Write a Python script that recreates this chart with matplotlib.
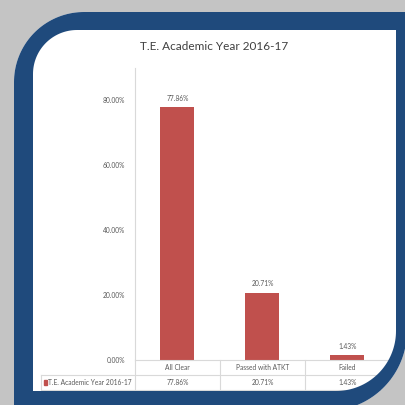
import numpy as np
import matplotlib
matplotlib.use("Agg")
import matplotlib.pyplot as plt
from matplotlib.path import Path
from matplotlib.patches import PathPatch, Rectangle

plt.rcParams['font.family'] = ['Lato', 'DejaVu Sans']

# data
title = "T.E. Academic Year 2016-17"
series_name = "T.E. Academic Year 2016-17"
categories = ["All Clear", "Passed with ATKT", "Failed"]
values = [0.7786, 0.2071, 0.0143]
yticks = [0.0, 0.2, 0.4, 0.6, 0.8]

bar_color = "#c0504d"
text_color = "#595959"
line_color = "#d9d9d9"
frame_blue = "#1f4a7c"
back_grey = "#c4c4c4"
fs = 4.8

W, H = 406, 405
fig = plt.figure(figsize=(W / 100, H / 100), dpi=100)


def rrect(x0, y0, x1, y1, r_tl, r_br, n=40):
    # rounded rectangle in pixel coords (y down), only TL and BR corners rounded
    pts = [(x0 + r_tl, y0), (x1, y0), (x1, y1 - r_br)]
    t = np.linspace(0, np.pi / 2, n)
    pts += list(zip(x1 - r_br + r_br * np.cos(t), y1 - r_br + r_br * np.sin(t)))
    pts += [(x0, y1), (x0, y0 + r_tl)]
    t = np.linspace(np.pi, 1.5 * np.pi, n)
    pts += list(zip(x0 + r_tl + r_tl * np.cos(t), y0 + r_tl + r_tl * np.sin(t)))
    pts.append(pts[0])
    return np.array(pts)


outer = rrect(14, 12, 407, 411, 70, 80)
inner = rrect(33, 30, 396, 391, 44, 60)
full = np.array([(-5, -5), (W + 5, -5), (W + 5, H + 5), (-5, H + 5), (-5, -5)])

# background: white panel
bg = fig.add_axes([0, 0, 1, 1])
bg.set_xlim(0, W)
bg.set_ylim(H, 0)
bg.axis('off')
bg.add_patch(Rectangle((0, 0), W, H, color='white'))
bg.text(214, 47, title, ha='center', va='center', fontsize=8.5, color='#404040')

# chart
ax = fig.add_axes([135 / W, 45 / H, 255 / W, 292 / H], facecolor='none')
x = np.arange(len(categories))
ax.bar(x, values, width=0.4, color=bar_color, zorder=2)
ax.set_xlim(-0.5, len(categories) - 0.5)
ax.set_ylim(0, 0.9)
ax.set_yticks(yticks)
ax.set_yticklabels([f"{v:.2%}" for v in yticks])
ax.set_xticks([])
ax.tick_params(axis='y', length=0, pad=7, labelsize=fs, labelcolor=text_color)
for s in ['top', 'right']:
    ax.spines[s].set_visible(False)
for s in ['left', 'bottom']:
    ax.spines[s].set_color(line_color)
    ax.spines[s].set_linewidth(0.8)

for xi, v in zip(x, values):
    ax.annotate(f"{v:.2%}", (xi, v), xytext=(0, 4), textcoords='offset points',
                ha='center', va='bottom', fontsize=fs, color=text_color)

# data table under the axis
px = 0.9 / 292
row = 15 * px
x_left = -0.5 + (41 - 135) / 85
x_right = len(categories) - 0.5
kw = dict(color=line_color, lw=0.8, clip_on=False)
ax.plot([x_left, x_right], [-row, -row], **kw)
ax.plot([x_left, x_right], [-2 * row, -2 * row], **kw)
ax.plot([x_left, x_left], [-row, -2 * row], **kw)
for b in np.arange(len(categories) + 1) - 0.5:
    ax.plot([b, b], [0, -2 * row], **kw)
for xi, c, v in zip(x, categories, values):
    ax.text(xi, -0.5 * row, c, ha='center', va='center', fontsize=fs,
            color=text_color, clip_on=False)
    ax.text(xi, -1.5 * row, f"{v:.2%}", ha='center', va='center', fontsize=fs,
            color=text_color, clip_on=False)
ax.add_patch(Rectangle((x_left + 0.03, -1.5 * row - 2.5 * px), 0.045, 5 * px,
                       color=bar_color, clip_on=False))
ax.text(x_left + 0.085, -1.5 * row, series_name, ha='left', va='center',
        fontsize=fs, color=text_color, clip_on=False)

# frame overlay on top
fr = fig.add_axes([0, 0, 1, 1], facecolor='none')
fr.set_xlim(0, W)
fr.set_ylim(H, 0)
fr.axis('off')
fr.add_patch(PathPatch(Path.make_compound_path(Path(full), Path(outer[::-1])),
                       facecolor=back_grey, edgecolor='none'))
fr.add_patch(PathPatch(Path.make_compound_path(Path(outer), Path(inner[::-1])),
                       facecolor=frame_blue, edgecolor='none'))

fig.savefig("out.png", dpi=100)
